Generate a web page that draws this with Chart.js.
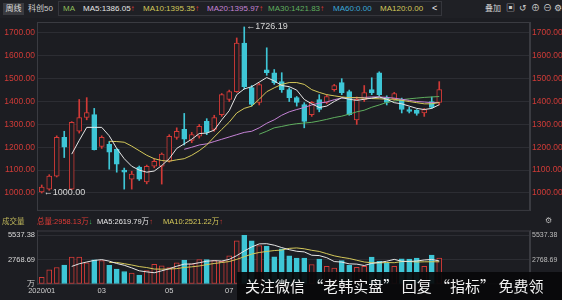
<!DOCTYPE html>
<html>
<head>
<meta charset="utf-8">
<script src="https://cdn.jsdelivr.net/npm/chart.js@4.4.1/dist/chart.umd.min.js"></script>
<style>
    body { margin: 0; width: 562px; height: 300px; overflow: hidden; position: relative; background: #1c1d22;
        font-family: "Liberation Sans", "Noto Sans CJK SC", sans-serif; }
    canvas { position: absolute; left: 0; }
    #main_chart { top: 14px; }
    #vol_chart { top: 224px; }
    .hd { position: absolute; white-space: nowrap; font-size: 8px; line-height: 10px; }
    #top_bar { position: absolute; left: 0; top: 0; width: 562px; height: 18px; background: #1f2025; z-index: 2; }
    #ma_box { position: absolute; left: 58px; top: 1px; width: 384px; height: 15px; border: 1px solid #35363c; box-sizing: border-box; }
    #week_box { position: absolute; left: 3px; top: 3px; width: 21px; height: 12px; background: #3a3b40; color: #ddd;
        font-size: 8px; line-height: 12px; text-align: center; }
    #vol_head { position: absolute; left: 0; top: 216px; width: 562px; height: 12px; z-index: 2; }
    #water { position: absolute; left: 237px; top: 272px; width: 325px; height: 28px; background: rgba(8, 8, 10, 0.93);
        color: #f2f2f2; font-family: "Noto Sans CJK SC", sans-serif; font-size: 15px; line-height: 28px;
        padding-left: 8px; box-sizing: border-box; white-space: nowrap; overflow: hidden; z-index: 3; }
</style>
</head>
<body>
<div id="top_bar">
    <div id="week_box">周线</div>
    <span class="hd" style="left:28px;top:4px;color:#cfcfcf">科创50</span>
    <div id="ma_box"></div>
    <span class="hd" style="left:63px;top:4px;color:#8fbf5a">MA</span>
    <span class="hd" style="left:83px;top:4px;color:#e6e6e6">MA5:1386.05<b style="color:#e03b36">↑</b></span>
    <span class="hd" style="left:143px;top:4px;color:#d4c85a">MA10:1395.35<b style="color:#e03b36">↑</b></span>
    <span class="hd" style="left:207px;top:4px;color:#c583d6">MA20:1395.97<b style="color:#e03b36">↑</b></span>
    <span class="hd" style="left:268px;top:4px;color:#5fae5f">MA30:1421.83<b style="color:#e03b36">↑</b></span>
    <span class="hd" style="left:333px;top:4px;color:#3aa8d8">MA60:0.00</span>
    <span class="hd" style="left:380px;top:4px;color:#d4c85a">MA120:0.00</span>
    <span class="hd" style="left:432px;top:3px;color:#eee;font-size:9px">&lt;</span>
    <span class="hd" style="left:485px;top:4px;color:#cfcfcf">叠加</span>
    <span class="hd" style="left:506px;top:3px;color:#cfcfcf;font-size:9px">▣</span>
    <span class="hd" style="left:519px;top:3px;color:#cfcfcf;font-size:9px">↺</span>
    <span class="hd" style="left:531px;top:3px;color:#cfcfcf;font-size:9px">⊕</span>
    <span class="hd" style="left:543px;top:3px;color:#cfcfcf;font-size:9px">⊖</span>
    <span class="hd" style="left:554px;top:3px;color:#cfcfcf;font-size:9px">⚙</span>
</div>
<canvas id="main_chart" width="562" height="204"></canvas>
<div id="vol_head">
    <span class="hd" style="left:2px;top:1px;color:#bdb55a;font-size:7.5px">成交量</span>
    <span class="hd" style="left:37px;top:1px;color:#e03b36;font-size:7.5px">总量:2958.13万<b style="color:#3fbf5f">↓</b></span>
    <span class="hd" style="left:97px;top:1px;color:#e6e6e6;font-size:7.5px">MA5:2619.79万<b style="color:#e03b36">↑</b></span>
    <span class="hd" style="left:163px;top:1px;color:#d4c85a;font-size:7.5px">MA10:2521.22万<b style="color:#e03b36">↑</b></span>
    <span class="hd" style="left:545px;top:0px;color:#bbb;font-size:8px">⚙</span>
</div>
<canvas id="vol_chart" width="562" height="76"></canvas>
<div id="water">关注微信 “老韩实盘” 回复 “指标” 免费领</div>

<script>
// weekly candles
const candleOpen = [1005, 1017, 1074, 1243, 1017, 1270, 1330, 1343, 1204, 1213, 1191, 1100, 1061, 1113, 1048, 1117, 1117, 1139,
    1243, 1278, 1230, 1248, 1313, 1278, 1343, 1409, 1443, 1656, 1461, 1396, 1539, 1526, 1487, 1452, 1417, 1387, 1343, 1409,
    1396, 1452, 1483, 1443, 1320, 1409, 1452, 1526, 1417, 1413, 1409, 1365, 1361, 1350, 1400, 1396]
const candleClose = [1026, 1074, 1243, 1200, 1309, 1330, 1352, 1190, 1243, 1178, 1126, 1091, 1083, 1061, 1117, 1139, 1170, 1248,
    1270, 1235, 1256, 1291, 1265, 1330, 1430, 1443, 1656, 1465, 1387, 1474, 1526, 1483, 1452, 1417, 1396, 1313, 1396, 1365,
    1422, 1470, 1439, 1343, 1410, 1439, 1439, 1430, 1396, 1435, 1365, 1357, 1348, 1365, 1374, 1452]
const candleHigh = [1035, 1080, 1250, 1270, 1312, 1409, 1417, 1370, 1250, 1225, 1195, 1109, 1095, 1118, 1122, 1150, 1175, 1255,
    1285, 1348, 1265, 1300, 1325, 1340, 1435, 1450, 1678, 1726.19, 1470, 1480, 1635, 1540, 1526, 1460, 1422, 1395, 1400, 1430,
    1430, 1475, 1500, 1450, 1420, 1470, 1504, 1530, 1425, 1440, 1415, 1375, 1365, 1370, 1420, 1487]
const candleLow = [1000, 1012, 1070, 1155, 1015, 1262, 1320, 1188, 1195, 1104, 1091, 1017, 1017, 1055, 1040, 1110, 1039, 1135,
    1235, 1210, 1220, 1240, 1255, 1270, 1335, 1400, 1440, 1455, 1380, 1385, 1515, 1475, 1440, 1400, 1380, 1285, 1335, 1355,
    1390, 1445, 1430, 1340, 1300, 1400, 1430, 1425, 1385, 1405, 1350, 1350, 1340, 1335, 1370, 1385]

const ma5 = [null, null, null, null, 1170, 1230, 1287, 1287, 1287, 1250, 1195, 1150, 1117, 1100, 1091, 1096, 1120, 1150,
    1195, 1215, 1235, 1260, 1262, 1275, 1320, 1360, 1430, 1455, 1465, 1485, 1505, 1490, 1470, 1465, 1450, 1409, 1390, 1374,
    1380, 1400, 1417, 1410, 1405, 1410, 1415, 1420, 1410, 1395, 1390, 1380, 1370, 1365, 1370, 1386.05]
const ma10 = [null, null, null, null, null, null, null, null, null, 1226, 1225, 1222, 1205, 1185, 1165, 1150, 1142, 1139,
    1145, 1150, 1165, 1185, 1210, 1245, 1278, 1310, 1350, 1370, 1380, 1410, 1443, 1460, 1475, 1483, 1483, 1475, 1452, 1440,
    1430, 1425, 1420, 1417, 1417, 1415, 1413, 1412, 1410, 1410, 1405, 1400, 1395, 1390, 1390, 1395.35]
const ma20 = [null, null, null, null, null, null, null, null, null, null, null, null, null, null, null, null, null, null,
    null, 1191, 1200, 1210, 1215, 1225, 1235, 1245, 1255, 1265, 1270, 1285, 1305, 1320, 1340, 1355, 1365, 1374, 1385, 1393,
    1398, 1408, 1415, 1417, 1417, 1418, 1420, 1420, 1418, 1415, 1410, 1405, 1400, 1398, 1395, 1395.97]
const ma30 = [null, null, null, null, null, null, null, null, null, null, null, null, null, null, null, null, null, null,
    null, null, null, null, null, null, null, null, null, null, null, 1257, 1270, 1285, 1291, 1298, 1303, 1306, 1309, 1315,
    1322, 1330, 1336, 1345, 1355, 1362, 1375, 1385, 1396, 1402, 1408, 1412, 1415, 1418, 1420, 1421.83]

// volume in 万
const volume = [750, 1600, 1880, 2150, 3050, 3050, 2400, 2750, 2650, 2130, 1700, 1420, 1240, 1000, 1530, 2240, 2060, 1880,
    2400, 2730, 2300, 2770, 2770, 2660, 2590, 3200, 4900, 5537.38, 4900, 4370, 4300, 3100, 4000, 3200, 2950, 2950, 2200, 2830,
    2000, 1800, 2660, 2130, 1900, 2000, 3050, 2590, 2400, 2000, 2870, 2830, 2950, 2000, 3300, 2958.13]
const volMa5 = [null, null, null, null, 2000, 2300, 2500, 2680, 2770, 2600, 2330, 2130, 1830, 1500, 1380, 1280, 1500, 1740,
    2020, 2260, 2270, 2420, 2590, 2650, 2610, 2800, 3220, 3750, 4210, 4560, 4580, 4410, 4140, 3900, 3720, 3650, 3270, 3230,
    2990, 2550, 2490, 2290, 2260, 2100, 2340, 2450, 2590, 2800, 2580, 2570, 2610, 2730, 2790, 2619.79]
const volMa10 = [null, null, null, null, null, null, null, null, null, 2450, 2450, 2310, 2160, 1980, 1870, 1700, 1690, 1700,
    1750, 1880, 1950, 2050, 2200, 2330, 2440, 2550, 2800, 3100, 3400, 3580, 3700, 3800, 3860, 4050, 4100, 4000, 3830, 3700,
    3450, 3200, 3030, 2900, 2700, 2500, 2420, 2400, 2440, 2420, 2550, 2560, 2500, 2520, 2530, 2521.22]

const priceTicks = [1000, 1100, 1200, 1300, 1400, 1500, 1600, 1700]
const volTicks = [0, 2768.69, 5537.38]
const xTickIdx = [0, 8, 17, 25]
const xTickLabels = ['2020/01', '03', '05', '07']
const markIdx = [27, 0]
const markVal = [1726.19, 1000.00]

const red = '#d23a37'
const cyan = '#3ec6d6'
const bg = '#1c1d22'
const gridColor = '#2c2d33'
const frameColor = '#3a3b41'

const isUp = candleClose.map((c, i) => c >= candleOpen[i])
const xy = (arr) => arr.map((v, i) => ({ x: i, y: v }))
const xMin = -0.63
const xMax = 65.1

const frame = {
    id: 'frame',
    beforeDatasetsDraw(chart) {
        const { ctx, chartArea: a } = chart
        ctx.save()
        ctx.strokeStyle = frameColor
        ctx.lineWidth = 1
        ctx.strokeRect(a.left + 0.5, a.top + 0.5, a.right - a.left - 1, a.bottom - a.top - 1)
        ctx.restore()
    }
}

const marks = {
    id: 'marks',
    afterDatasetsDraw(chart) {
        const { ctx, scales } = chart
        ctx.save()
        ctx.fillStyle = '#d8d8d8'
        ctx.font = '9px "Liberation Sans"'
        ctx.textBaseline = 'middle'
        markIdx.forEach((idx, i) => {
            const px = scales.x.getPixelForValue(idx)
            const py = scales.y.getPixelForValue(markVal[i])
            ctx.fillText('←' + markVal[i].toFixed(2), px + 2, py)
        })
        ctx.restore()
    }
}

const lineSet = (data, color) => ({
    type: 'line', data: xy(data), borderColor: color, borderWidth: 1, pointRadius: 0,
    tension: 0, spanGaps: false, order: 0
})

const sideAxis = (pos, min, max, ticks, fmt, color, size, showGrid, w) => ({
    position: pos, min: min, max: max,
    afterBuildTicks: (s) => { s.ticks = ticks.map((v) => ({ value: v })) },
    afterFit: (s) => { s.width = w },
    ticks: { color: color, font: { size: size, family: 'Liberation Sans' }, padding: 2, callback: fmt },
    grid: { display: showGrid, color: gridColor, drawTicks: false },
    border: { color: frameColor }
})

new Chart(document.getElementById('main_chart'), {
    type: 'bar',
    data: {
        datasets: [
            {
                data: candleLow.map((l, i) => ({ x: i, y: [l, candleHigh[i]] })),
                backgroundColor: isUp.map((u) => u ? red : cyan),
                barThickness: 1, borderWidth: 0, grouped: false, order: 2
            },
            {
                data: candleOpen.map((o, i) => ({ x: i, y: [o, candleClose[i]] })),
                backgroundColor: isUp.map((u) => u ? bg : cyan),
                borderColor: isUp.map((u) => u ? red : cyan),
                borderWidth: 1, borderSkipped: false, barThickness: 5, grouped: false, order: 1
            },
            lineSet(ma5, '#e6e6e6'),
            lineSet(ma10, '#d4c85a'),
            lineSet(ma20, '#c583d6'),
            lineSet(ma30, '#5fae5f')
        ]
    },
    options: {
        responsive: false,
        animation: false,
        devicePixelRatio: 1,
        layout: { padding: { top: 8, bottom: 6, left: 0, right: 0 } },
        plugins: { legend: { display: false }, tooltip: { enabled: false } },
        scales: {
            x: { type: 'linear', min: xMin, max: xMax, offset: false, display: false },
            y: sideAxis('left', 921.7, 1747.8, priceTicks, (v) => v.toFixed(2), '#cf3b37', 8.5, true, 37),
            y2: sideAxis('right', 921.7, 1747.8, priceTicks, (v) => v.toFixed(2), '#cf3b37', 8.5, false, 32)
        }
    },
    plugins: [frame, marks]
})

new Chart(document.getElementById('vol_chart'), {
    type: 'bar',
    data: {
        datasets: [
            {
                data: xy(volume),
                backgroundColor: isUp.map((u) => u ? bg : cyan),
                borderColor: isUp.map((u) => u ? red : cyan),
                borderWidth: 1, borderSkipped: false, barThickness: 5, grouped: false, order: 1
            },
            lineSet(volMa5, '#e6e6e6'),
            lineSet(volMa10, '#d4c85a')
        ]
    },
    options: {
        responsive: false,
        animation: false,
        devicePixelRatio: 1,
        layout: { padding: { top: 6, bottom: 3, left: 0, right: 0 } },
        plugins: { legend: { display: false }, tooltip: { enabled: false } },
        scales: {
            x: {
                type: 'linear', min: xMin, max: xMax, offset: false,
                afterBuildTicks: (s) => { s.ticks = xTickIdx.map((v) => ({ value: v })) },
                ticks: {
                    color: '#d0d0d0', font: { size: 7.5, family: 'Liberation Sans' }, padding: 2, maxRotation: 0,
                    autoSkip: false, callback: (v) => xTickLabels[xTickIdx.indexOf(v)]
                },
                grid: { display: false, drawTicks: false },
                border: { display: false }
            },
            y: sideAxis('left', 0, 6080, volTicks, (v) => v === 0 ? '万' : v.toFixed(2), '#d8d8d8', 7.5, true, 37),
            y2: sideAxis('right', 0, 6080, volTicks, (v) => v === 0 ? '' : v.toFixed(2), '#bdbdbd', 7, false, 32)
        }
    },
    plugins: [frame]
})
</script>
</body>
</html>
